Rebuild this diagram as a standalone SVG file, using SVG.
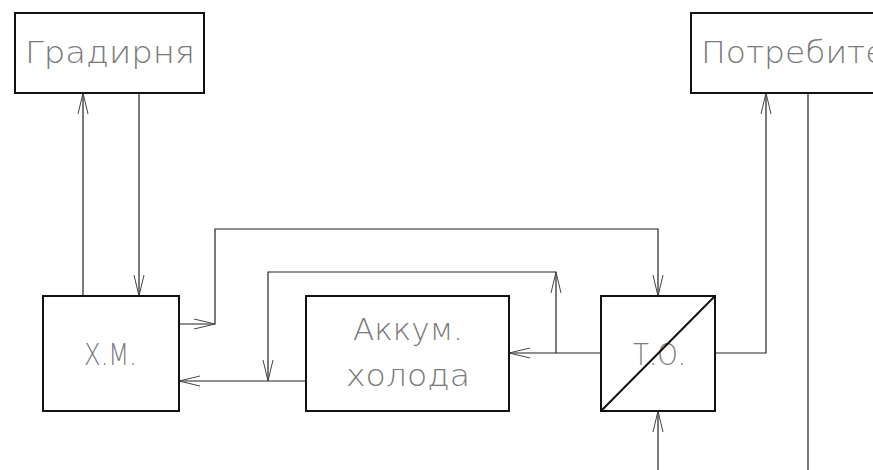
<svg xmlns="http://www.w3.org/2000/svg" width="873" height="470" viewBox="0 0 873 470">
<style>
.box{fill:#fff;stroke:#111;stroke-width:2}
.ln{fill:none;stroke:#222;stroke-width:1.2}
.ah{fill:none;stroke:#444;stroke-width:1}
.t{font-family:"DejaVu Sans",sans-serif;font-weight:200;font-size:30px;fill:#7a7a7a}
</style>
<rect width="873" height="470" fill="#fff"/>
<g id="connectors">
<path class="ln" d="M83,296 V93"/>
<path class="ah" d="M78,114 L83,93 L88,114"/>
<path class="ln" d="M139,93 V296"/>
<path class="ah" d="M134,275 L139,296 L144,275"/>
<path class="ln" d="M179,324 H215 V229 H658 V296"/>
<path class="ah" d="M194,319 L215,324 L194,329"/>
<path class="ah" d="M653,275 L658,296 L663,275"/>
<path class="ln" d="M306,381 H179"/>
<path class="ah" d="M200,376 L179,381 L200,386"/>
<path class="ln" d="M601,353 H509"/>
<path class="ah" d="M530,348 L509,353 L530,358"/>
<path class="ln" d="M556,353 V272 H268 V381"/>
<path class="ah" d="M551,293 L556,272 L561,293"/>
<path class="ah" d="M263,360 L268,381 L273,360"/>
<path class="ln" d="M715,353 H766 V93"/>
<path class="ah" d="M761,114 L766,93 L771,114"/>
<path class="ln" d="M658,470 V411"/>
<path class="ah" d="M653,432 L658,411 L663,432"/>
<path class="ln" d="M808,93 V470" stroke="#555"/>
</g>
<g id="gradirnya">
<rect class="box" x="15" y="13" width="189" height="80"/>
<text class="t" x="25" y="63" textLength="170" lengthAdjust="spacingAndGlyphs">Градирня</text>
</g>
<g id="potrebitel">
<rect class="box" x="691" y="13" width="220" height="80"/>
<text class="t" x="701" y="63" textLength="225" lengthAdjust="spacingAndGlyphs">Потребитель</text>
</g>
<g id="xm">
<rect class="box" x="43" y="296" width="136" height="115"/>
<text class="t" x="84" y="365" textLength="53" lengthAdjust="spacingAndGlyphs">Х.М.</text>
</g>
<g id="akkum">
<rect class="box" x="306" y="296" width="203" height="115"/>
<text class="t" x="353" y="340" textLength="110" lengthAdjust="spacingAndGlyphs">Аккум.</text>
<text class="t" x="346" y="386" textLength="124" lengthAdjust="spacingAndGlyphs">холода</text>
</g>
<g id="to">
<rect class="box" x="601" y="296" width="114" height="115"/>
<text class="t" x="633" y="365" textLength="53" lengthAdjust="spacingAndGlyphs">Т.О.</text>
<line x1="601" y1="411" x2="715" y2="296" stroke="#111" stroke-width="2"/>
</g>
</svg>
